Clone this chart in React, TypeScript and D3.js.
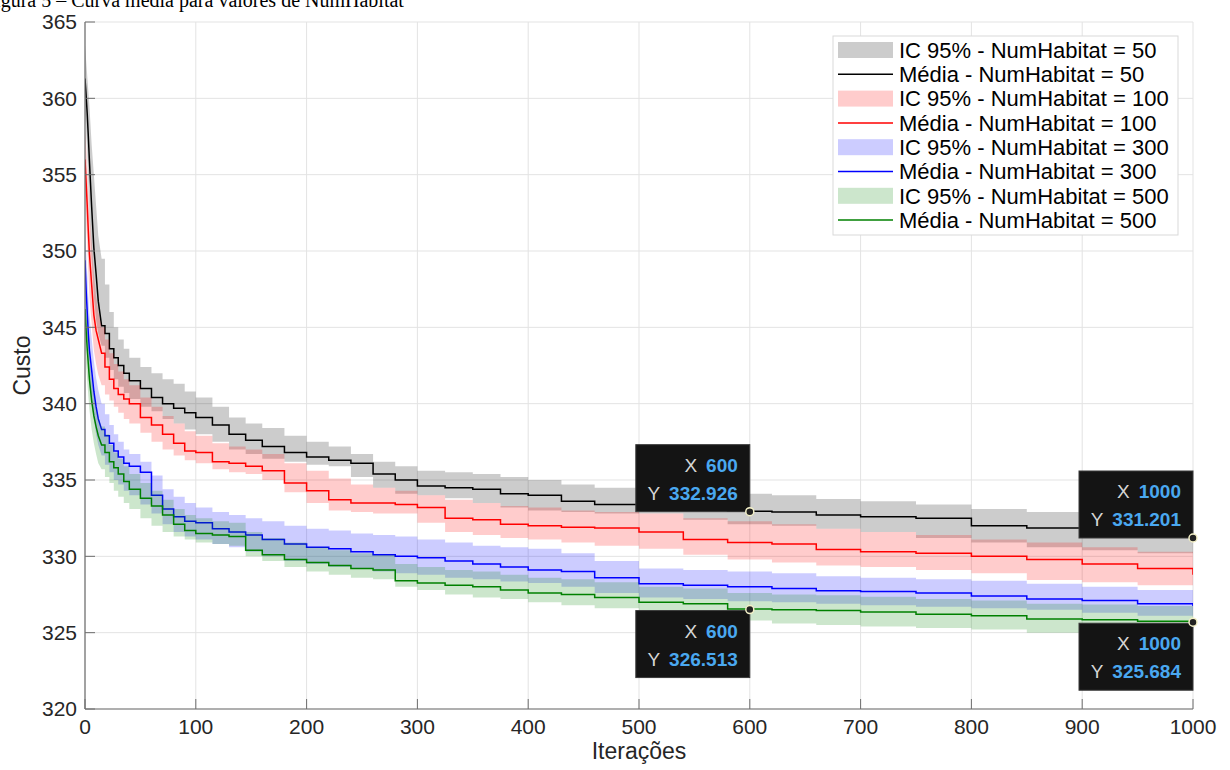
import React from 'react';
import * as d3 from 'd3';

// iterations where the step curves were sampled
const ITER = [0, 1, 2, 3, 4, 6, 8, 10, 12, 15, 18, 22, 26, 30, 35, 40, 50, 60, 70, 80, 90, 100, 115, 130, 145, 160, 180, 200, 220, 240, 260, 280, 300, 325, 350, 375, 400, 430, 460, 500, 540, 580, 620, 660, 700, 750, 800, 850, 900, 950, 1000];

const MEAN_50 = [361.3, 360.2, 359.0, 357.5, 355.9, 352.9, 350.2, 348.5, 346.7, 345.1, 344.6, 343.6, 343.0, 342.5, 342.0, 341.5, 341.0, 340.4, 340.0, 339.7, 339.4, 339.1, 338.6, 338.0, 337.6, 337.2, 336.8, 336.5, 336.3, 336.1, 335.4, 335.0, 334.6, 334.5, 334.4, 334.1, 334.0, 333.6, 333.4, 333.3, 333.2, 332.95, 332.9, 332.7, 332.6, 332.5, 332.0, 331.85, 331.7, 331.3, 331.2];
const HI_50 = [363.5, 362.5, 361.5, 360.5, 359.5, 357.0, 355.0, 353.0, 351.0, 349.5, 347.8, 346.0, 345.0, 344.2, 343.6, 343.0, 342.4, 342.0, 341.6, 341.3, 340.8, 340.4, 339.8, 339.1, 338.7, 338.4, 337.9, 337.5, 337.2, 336.7, 336.2, 335.9, 335.6, 335.5, 335.4, 335.2, 335.0, 334.7, 334.5, 334.35, 334.2, 334.1, 334.0, 333.75, 333.6, 333.4, 333.1, 332.9, 332.6, 332.4, 332.2];
const LO_50 = [359.0, 358.0, 356.5, 354.5, 352.5, 349.5, 347.0, 345.5, 344.6, 343.8, 343.0, 342.2, 341.6, 341.1, 340.7, 340.3, 339.8, 339.5, 339.0, 338.7, 338.3, 338.0, 337.5, 337.0, 336.7, 336.4, 336.2, 336.0, 335.9, 335.2, 334.5, 334.1, 334.0, 333.8, 333.5, 333.2, 333.0, 332.9, 332.8, 332.8, 332.4, 332.1, 332.0, 331.8, 331.6, 331.2, 330.9, 330.6, 330.4, 330.2, 330.1];

const MEAN_100 = [356.0, 354.5, 353.0, 351.3, 349.8, 347.8, 345.8, 344.8, 344.2, 343.3, 342.4, 341.6, 341.0, 340.6, 340.3, 340.0, 339.1, 338.6, 338.0, 337.4, 336.9, 336.8, 336.2, 336.1, 335.9, 335.6, 334.8, 334.3, 333.7, 333.5, 333.5, 333.4, 333.2, 332.5, 332.4, 332.1, 332.0, 331.9, 331.85, 331.6, 331.1, 330.9, 330.8, 330.45, 330.3, 330.2, 330.0, 329.8, 329.5, 329.2, 328.8];
const HI_100 = [358.0, 357.0, 355.5, 354.0, 352.5, 350.5, 348.5, 347.0, 346.0, 345.0, 344.2, 343.3, 342.6, 342.1, 341.6, 341.2, 340.4, 339.8, 339.2, 338.7, 338.2, 337.9, 337.4, 337.2, 337.0, 336.7, 336.1, 335.6, 335.1, 334.7, 334.5, 334.3, 334.0, 333.7, 333.5, 333.3, 333.2, 333.0, 332.9, 332.8, 332.5, 332.3, 332.1, 331.8, 331.6, 331.4, 331.1, 330.9, 330.6, 330.3, 330.0];
const LO_100 = [354.0, 352.0, 350.5, 348.8, 347.0, 345.2, 343.5, 342.6, 341.9, 341.2, 340.6, 340.2, 339.8, 339.4, 339.0, 338.7, 338.1, 337.5, 337.0, 336.6, 336.3, 336.1, 335.7, 335.5, 335.4, 335.0, 334.2, 333.5, 333.0, 332.9, 332.8, 332.8, 332.2, 331.6, 331.4, 331.2, 331.1, 330.9, 330.7, 330.5, 330.1, 329.8, 329.6, 329.4, 329.3, 329.1, 328.9, 328.45, 328.3, 328.1, 327.9];

const MEAN_300 = [349.4, 347.5, 346.0, 344.6, 343.5, 342.2, 340.8, 339.8, 339.0, 338.3, 337.9, 337.4, 336.9, 336.5, 336.1, 335.9, 335.5, 334.0, 333.1, 332.6, 332.3, 332.2, 331.8, 331.6, 331.4, 331.1, 330.8, 330.6, 330.5, 330.3, 330.1, 330.0, 329.9, 329.7, 329.5, 329.3, 329.1, 329.0, 328.6, 328.2, 328.1, 328.0, 327.9, 327.75, 327.7, 327.6, 327.4, 327.2, 327.1, 326.9, 326.75];
const HI_300 = [351.5, 350.0, 348.5, 347.0, 345.8, 344.3, 342.8, 341.7, 340.9, 340.0, 339.3, 338.6, 338.0, 337.5, 337.0, 336.7, 336.2, 335.3, 334.4, 333.9, 333.5, 333.2, 332.9, 332.7, 332.5, 332.3, 332.0, 331.8, 331.7, 331.5, 331.4, 331.3, 331.1, 330.9, 330.7, 330.6, 330.5, 330.2, 329.7, 329.2, 329.1, 329.0, 328.9, 328.7, 328.6, 328.5, 328.4, 328.2, 328.0, 327.8, 327.6];
const LO_300 = [347.0, 345.3, 343.8, 342.3, 341.3, 340.0, 339.0, 338.0, 337.3, 336.6, 336.0, 335.5, 335.0, 334.7, 334.3, 334.0, 333.4, 332.8, 332.1, 331.6, 331.3, 331.1, 330.8, 330.6, 330.3, 330.0, 329.7, 329.5, 329.3, 329.2, 329.0, 328.9, 328.8, 328.6, 328.5, 328.35, 328.25, 328.0, 327.6, 327.3, 327.2, 327.05, 327.0, 326.9, 326.8, 326.7, 326.6, 326.5, 326.3, 326.1, 325.95];

const MEAN_500 = [346.2, 344.8, 343.6, 342.6, 341.6, 340.2, 339.2, 338.5, 337.9, 337.3, 336.8, 336.2, 335.8, 335.4, 334.9, 334.4, 333.8, 333.3, 332.7, 332.1, 331.7, 331.5, 331.4, 331.3, 330.4, 330.1, 329.8, 329.6, 329.4, 329.2, 329.1, 328.4, 328.25, 328.1, 328.0, 327.8, 327.6, 327.5, 327.3, 327.0, 326.9, 326.55, 326.5, 326.45, 326.35, 326.2, 326.1, 325.9, 325.85, 325.75, 325.68];
const HI_500 = [348.0, 346.5, 345.3, 344.2, 343.2, 341.8, 340.7, 339.8, 339.1, 338.5, 338.0, 337.3, 336.8, 336.4, 335.9, 335.4, 334.8, 334.3, 333.7, 333.1, 332.7, 332.5, 332.3, 332.2, 331.6, 331.2, 330.9, 330.6, 330.4, 330.2, 330.1, 329.5, 329.3, 329.1, 329.0, 328.8, 328.6, 328.5, 328.3, 328.0, 327.9, 327.6, 327.5, 327.45, 327.35, 327.2, 327.1, 326.9, 326.85, 326.75, 326.7];
const LO_500 = [344.0, 342.6, 341.5, 340.5, 339.6, 338.3, 337.4, 336.7, 336.1, 335.7, 335.2, 334.8, 334.3, 333.9, 333.5, 333.1, 332.5, 332.0, 331.6, 331.3, 331.1, 330.9, 330.8, 330.7, 330.0, 329.7, 329.3, 329.0, 328.8, 328.6, 328.5, 328.0, 327.8, 327.5, 327.3, 327.2, 327.0, 326.8, 326.6, 326.2, 326.0, 325.8, 325.6, 325.5, 325.4, 325.3, 325.2, 325.0, 324.95, 324.85, 324.8];

const HABITATS = ['50', '100', '300', '500'];
const COLORS = ['#000000', '#ff0000', '#0000ff', '#008000'];
const X_TICKS = [0, 100, 200, 300, 400, 500, 600, 700, 800, 900, 1000];
const Y_TICKS = [320, 325, 330, 335, 340, 345, 350, 355, 360, 365];

// data tips: x, y, box side
const TIP_X = [600, 600, 1000, 1000];
const TIP_Y = [332.926, 326.513, 331.201, 325.684];
const TIP_SIDE = ['above', 'below', 'above', 'below'];

const FONT = '"Liberation Sans", Arial, Helvetica, sans-serif';

// first iterations are steep and look like a slope, later ones are stairs
const SLOPE_UNTIL = 15;

const stairs = (vals, lo?, hi?) => {
    const pts = [];
    for (let k = 0; k < ITER.length; k++) {
        pts.push({ it: ITER[k], v: vals[k], lo: lo ? lo[k] : 0, hi: hi ? hi[k] : 0 });
        if (k < ITER.length - 1 && ITER[k + 1] > SLOPE_UNTIL) {
            pts.push({ it: ITER[k + 1], v: vals[k], lo: lo ? lo[k] : 0, hi: hi ? hi[k] : 0 });
        }
    }
    return pts;
};

const App = () => {
    const width = 1230;
    const height = 770;
    const plot = { left: 85, right: 1193, top: 22, bottom: 709 };

    const x = d3.scaleLinear().domain([0, 1000]).range([plot.left, plot.right]);
    const y = d3.scaleLinear().domain([320, 365]).range([plot.bottom, plot.top]);

    const series = [
        { mean: MEAN_50, lo: LO_50, hi: HI_50 },
        { mean: MEAN_100, lo: LO_100, hi: HI_100 },
        { mean: MEAN_300, lo: LO_300, hi: HI_300 },
        { mean: MEAN_500, lo: LO_500, hi: HI_500 },
    ];

    const area = (lo, hi) => d3.area()
        .x(d => x(d.it))
        .y0(d => y(d.lo))
        .y1(d => y(d.hi))(stairs(lo, lo, hi));

    const line = (vals) => d3.line()
        .x(d => x(d.it))
        .y(d => y(d.v))(stairs(vals));

    const gridColor = '#e3e3e3';
    const axisColor = '#6e6e6e';

    // legend layout
    const lg = { x: 833, y: 36, w: 345, h: 199, rowH: 24.3 };

    return (
        <svg width={width} height={height} style={{ position: 'absolute', left: 0, top: 0, background: '#fff' }} fontFamily={FONT}>
            <defs>
                <clipPath id="plotClip">
                    <rect x={plot.left} y={plot.top} width={plot.right - plot.left} height={plot.bottom - plot.top} />
                </clipPath>
            </defs>

            {/* caption cut off at the top of the page */}
            <text x={-16} y={7} fontFamily='"Liberation Serif", "Times New Roman", serif' fontSize={20} fill="#000">
                Figura 5 – Curva média para valores de NumHabitat
            </text>

            {/* grid */}
            {X_TICKS.map(t => (
                <line key={'gx' + t} x1={x(t)} x2={x(t)} y1={plot.top} y2={plot.bottom} stroke={gridColor} strokeWidth={1} />
            ))}
            {Y_TICKS.map(t => (
                <line key={'gy' + t} x1={plot.left} x2={plot.right} y1={y(t)} y2={y(t)} stroke={gridColor} strokeWidth={1} />
            ))}

            {/* bands and mean lines, same order as the legend */}
            <g clipPath="url(#plotClip)">
                {series.map((s, k) => (
                    <g key={'s' + k}>
                        <path d={area(s.lo, s.hi)} fill={COLORS[k]} fillOpacity={0.2} stroke="none" />
                        <path d={line(s.mean)} fill="none" stroke={COLORS[k]} strokeWidth={1.5} />
                    </g>
                ))}
            </g>

            {/* axes */}
            <line x1={plot.left} x2={plot.left} y1={plot.top} y2={plot.bottom} stroke={axisColor} strokeWidth={1.2} />
            <line x1={plot.left} x2={plot.right} y1={plot.bottom} y2={plot.bottom} stroke={axisColor} strokeWidth={1.2} />
            {Y_TICKS.map(t => (
                <g key={'ty' + t}>
                    <line x1={plot.left} x2={plot.left + 10} y1={y(t)} y2={y(t)} stroke={axisColor} />
                    <text x={plot.left - 8} y={y(t)} dy="0.35em" textAnchor="end" fontSize={21} fill="#262626">{t}</text>
                </g>
            ))}
            {X_TICKS.map(t => (
                <g key={'tx' + t}>
                    <line x1={x(t)} x2={x(t)} y1={plot.bottom} y2={plot.bottom - 10} stroke={axisColor} />
                    <text x={x(t)} y={plot.bottom + 25} textAnchor="middle" fontSize={21} fill="#262626">{t}</text>
                </g>
            ))}
            <text x={(plot.left + plot.right) / 2} y={759} textAnchor="middle" fontSize={23} fill="#262626">Iterações</text>
            <text transform={`translate(30,${(plot.top + plot.bottom) / 2}) rotate(-90)`} textAnchor="middle" fontSize={23} fill="#262626">Custo</text>

            {/* legend */}
            <g>
                <rect x={lg.x} y={lg.y} width={lg.w} height={lg.h} fill="#fff" stroke="#d9d9d9" strokeWidth={1} />
                {HABITATS.map((h, k) => {
                    const r0 = lg.y + 14 + k * 2 * lg.rowH;
                    const r1 = r0 + lg.rowH;
                    return (
                        <g key={'lg' + h}>
                            <rect x={lg.x + 5} y={r0 - 8} width={55} height={16} fill={COLORS[k]} fillOpacity={0.2} />
                            <text x={lg.x + 66} y={r0} dy="0.35em" fontSize={22} fill="#000">{`IC 95% - NumHabitat = ${h}`}</text>
                            <line x1={lg.x + 5} x2={lg.x + 60} y1={r1} y2={r1} stroke={COLORS[k]} strokeWidth={1.5} />
                            <text x={lg.x + 66} y={r1} dy="0.35em" fontSize={22} fill="#000">{`Média - NumHabitat = ${h}`}</text>
                        </g>
                    );
                })}
            </g>

            {/* data tips */}
            {TIP_X.map((tx, k) => {
                const px = x(tx);
                const py = y(TIP_Y[k]);
                const bw = 114;
                const bh = 67;
                const top = TIP_SIDE[k] === 'above' ? py - bh : py + 1;
                return (
                    <g key={'tip' + k}>
                        <rect x={px - bw} y={top} width={bw} height={bh} fill="#141414" stroke="#3a3a3a" strokeWidth={1} />
                        <text x={px - 12} y={top + 27} textAnchor="end" fontSize={19}>
                            <tspan fill="#d6d6d6">X</tspan>
                            <tspan dx={9} fill="#4aa8f0" fontWeight="bold">{tx}</tspan>
                        </text>
                        <text x={px - 12} y={top + 55} textAnchor="end" fontSize={19}>
                            <tspan fill="#d6d6d6">Y</tspan>
                            <tspan dx={9} fill="#4aa8f0" fontWeight="bold">{TIP_Y[k].toFixed(3)}</tspan>
                        </text>
                        <circle cx={px} cy={py} r={4} fill="#222" stroke="#f4f1c8" strokeWidth={1.5} />
                    </g>
                );
            })}
        </svg>
    );
};

export default App;
